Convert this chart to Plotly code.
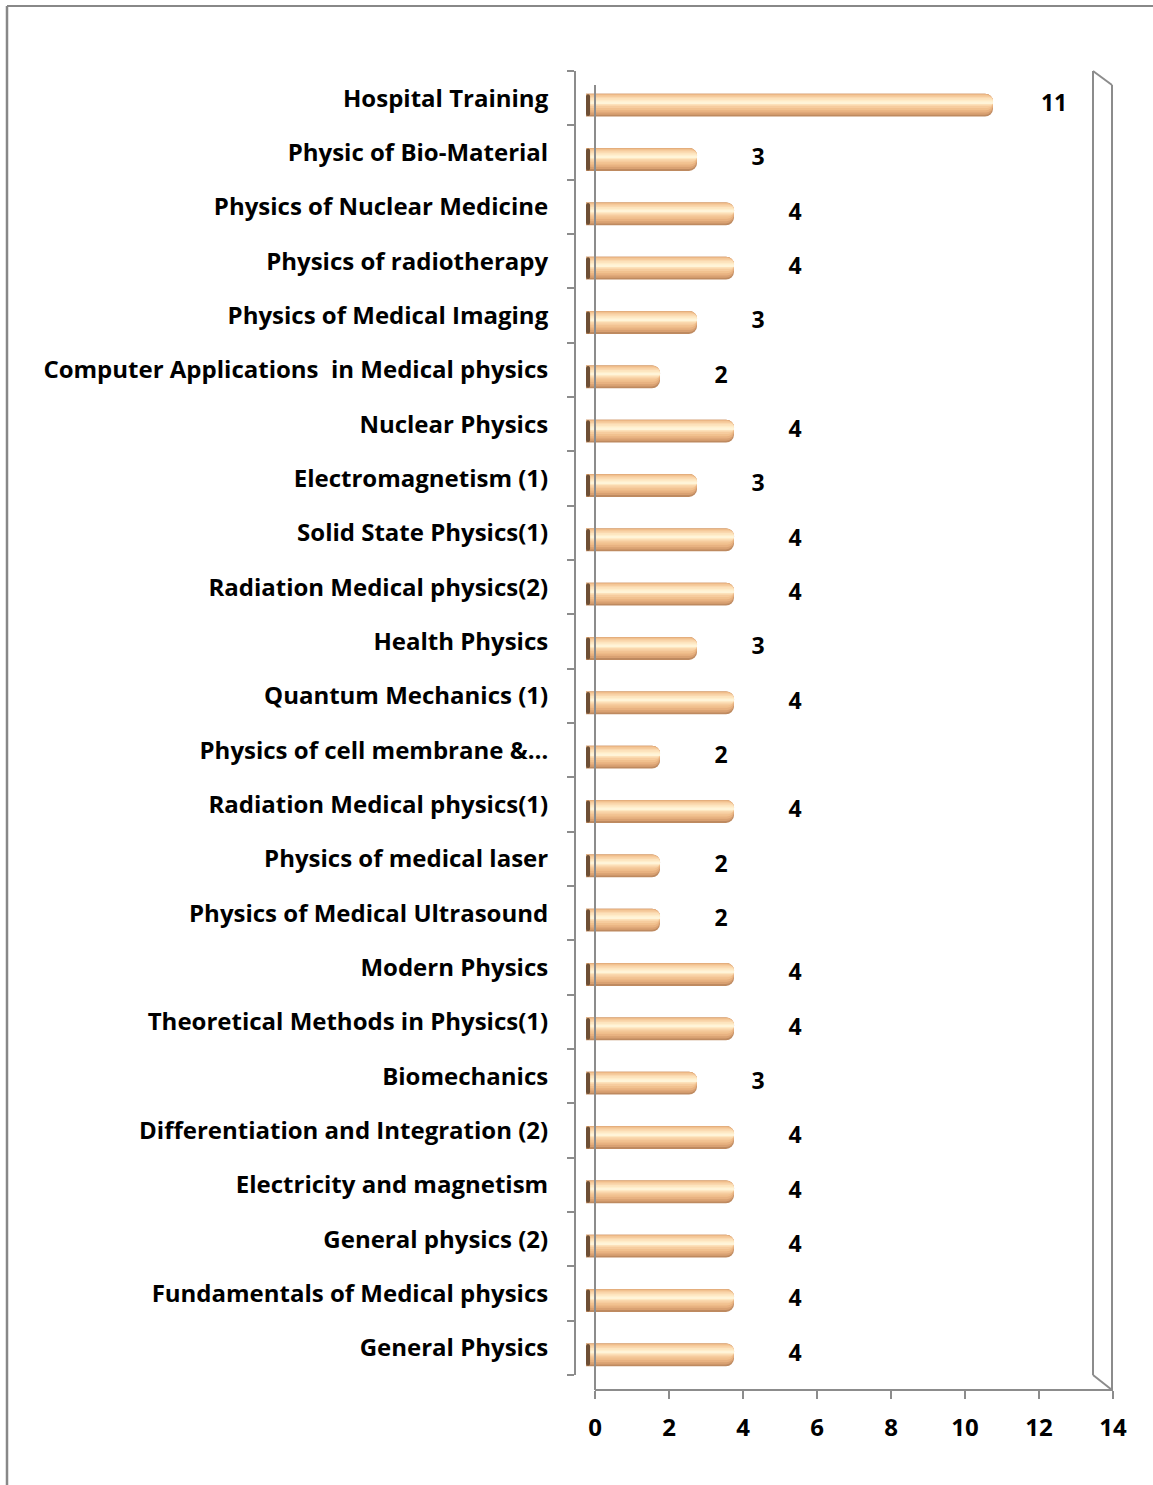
import plotly.graph_objects as go

# ---- data (top to bottom as shown) ----
categories = [
    "Hospital Training",
    "Physic of Bio-Material",
    "Physics of Nuclear Medicine",
    "Physics of radiotherapy",
    "Physics of Medical Imaging",
    "Computer Applications  in Medical physics",
    "Nuclear Physics",
    "Electromagnetism (1)",
    "Solid State Physics(1)",
    "Radiation Medical physics(2)",
    "Health Physics",
    "Quantum Mechanics (1)",
    "Physics of cell membrane &…",
    "Radiation Medical physics(1)",
    "Physics of medical laser",
    "Physics of Medical Ultrasound",
    "Modern Physics",
    "Theoretical Methods in Physics(1)",
    "Biomechanics",
    "Differentiation and Integration (2)",
    "Electricity and magnetism",
    "General physics (2)",
    "Fundamentals of Medical physics",
    "General Physics",
]
values = [11, 3, 4, 4, 3, 2, 4, 3, 4, 4, 3, 4, 2, 4, 2, 2, 4, 4, 3, 4, 4, 4, 4, 4]
x_ticks = [0, 2, 4, 6, 8, 10, 12, 14]

# ---- geometry helpers ----
W, H = 1153, 1485
def px(x):
    return x / W
def py(y):
    return 1 - y / H

cat_order = list(reversed(categories))  # bottom-to-top for plotly
FONT = "Open Sans"
GRAY = "#8C8C8C"
n = len(categories)

fig = go.Figure()

# cylinder shading built from nested bar layers (lo, hi as fraction of thickness)
T = 0.42
layers = [
    (-0.50, 0.50, "#BE8A60", 8),
    (-0.42, 0.50, "#D9A172", 8),
    (-0.32, 0.49, "#E8B281", 7),
    (-0.22, 0.46, "#F1C18F", 7),
    (-0.12, 0.42, "#F6CC9E", 6),
    (-0.04, 0.36, "#FAD8AE", 5),
    (0.02, 0.30, "#FDE4BE", 4),
    (0.06, 0.22, "#FFEECC", 3),
    (0.09, 0.16, "#FFF4D8", 1),
]
for lo, hi, col, cr in layers:
    fig.add_trace(go.Bar(
        x=values, y=categories, orientation="h",
        width=(hi - lo) * T, offset=lo * T,
        marker=dict(color=col, line=dict(width=0), cornerradius=cr),
        xaxis="x", yaxis="y", hoverinfo="skip", showlegend=False,
    ))

# dark elliptical base cap of the cylinders (two tiny rounded halves at x = 0)
for half in (0.11, -0.11):
    fig.add_trace(go.Bar(
        x=[half] * n, y=categories, base=0, orientation="h",
        width=T * 0.96, offset=-0.48 * T,
        marker=dict(color="#6E4F35", line=dict(width=0), cornerradius=4),
        xaxis="x", yaxis="y", hoverinfo="skip", showlegend=False,
    ))

# data labels
fig.add_trace(go.Scatter(
    x=[v + 1.65 for v in values], y=categories, mode="text",
    text=[str(v) for v in values],
    textfont=dict(family=FONT, size=23, color="black", weight="bold"),
    xaxis="x", yaxis="y", hoverinfo="skip", showlegend=False,
))

# invisible trace driving the front category axis and back value axis
fig.add_trace(go.Scatter(
    x=[0] * n, y=categories, mode="markers",
    marker=dict(opacity=0, size=1),
    xaxis="x2", yaxis="y2", hoverinfo="skip", showlegend=False,
))

fig.update_layout(
    width=W, height=H, autosize=False,
    margin=dict(l=0, r=0, t=0, b=0, pad=0, autoexpand=False),
    paper_bgcolor="white", plot_bgcolor="rgba(0,0,0,0)",
    barmode="overlay", showlegend=False,
    xaxis=dict(domain=[px(586), px(586 + 14 * 37)], range=[0, 14],
               visible=False, anchor="y", fixedrange=True, automargin=False),
    yaxis=dict(domain=[py(1382), py(78)], type="category",
               categoryorder="array", categoryarray=cat_order,
               range=[-0.5, n - 0.5],
               visible=False, anchor="x", fixedrange=True, automargin=False),
    xaxis2=dict(domain=[px(595), px(595 + 14 * 37)], range=[0, 14],
                tickmode="array", tickvals=x_ticks, ticktext=[str(t) for t in x_ticks],
                showline=True, linecolor=GRAY, linewidth=2,
                ticks="outside", ticklen=8, tickwidth=2, tickcolor=GRAY,
                showgrid=False, zeroline=False,
                tickfont=dict(family=FONT, size=24, color="black", weight="bold"),
                ticklabelstandoff=8, automargin=False,
                anchor="free", position=py(1390), fixedrange=True),
    yaxis2=dict(domain=[py(1375), py(71)], type="category",
                categoryorder="array", categoryarray=cat_order,
                range=[-0.5, n - 0.5],
                showline=True, linecolor=GRAY, linewidth=2,
                ticks="outside", ticklen=7, tickwidth=2, tickcolor=GRAY,
                tickson="boundaries", showgrid=False, zeroline=False,
                tickfont=dict(family=FONT, size=24, color="black", weight="bold"),
                ticklabelstandoff=21, automargin=False,
                anchor="free", position=px(575), side="left", fixedrange=True),
)

# 3-D frame lines (decoration)
frame = [
    (595, 85, 595, 1390),
    (1093, 71, 1093, 1375),
    (1093, 71, 1112, 85),
    (1112, 85, 1112, 1390),
    (1093, 1375, 1112, 1390),
]
for x0, y0, x1, y1 in frame:
    fig.add_shape(type="line", xref="paper", yref="paper",
                  x0=px(x0), y0=py(y0), x1=px(x1), y1=py(y1),
                  line=dict(color=GRAY, width=2), layer="above")

# outer chart border
fig.add_shape(type="line", xref="paper", yref="paper",
              x0=px(7), y0=py(6), x1=px(1153), y1=py(6),
              line=dict(color="#888888", width=2))
fig.add_shape(type="line", xref="paper", yref="paper",
              x0=px(7), y0=py(6), x1=px(7), y1=py(1485),
              line=dict(color="#888888", width=2.5))

fig.write_html(
    "out.html",
    post_script="document.documentElement.style.overflow='hidden';"
                "document.body.style.margin='0';document.body.style.overflow='hidden';",
)
